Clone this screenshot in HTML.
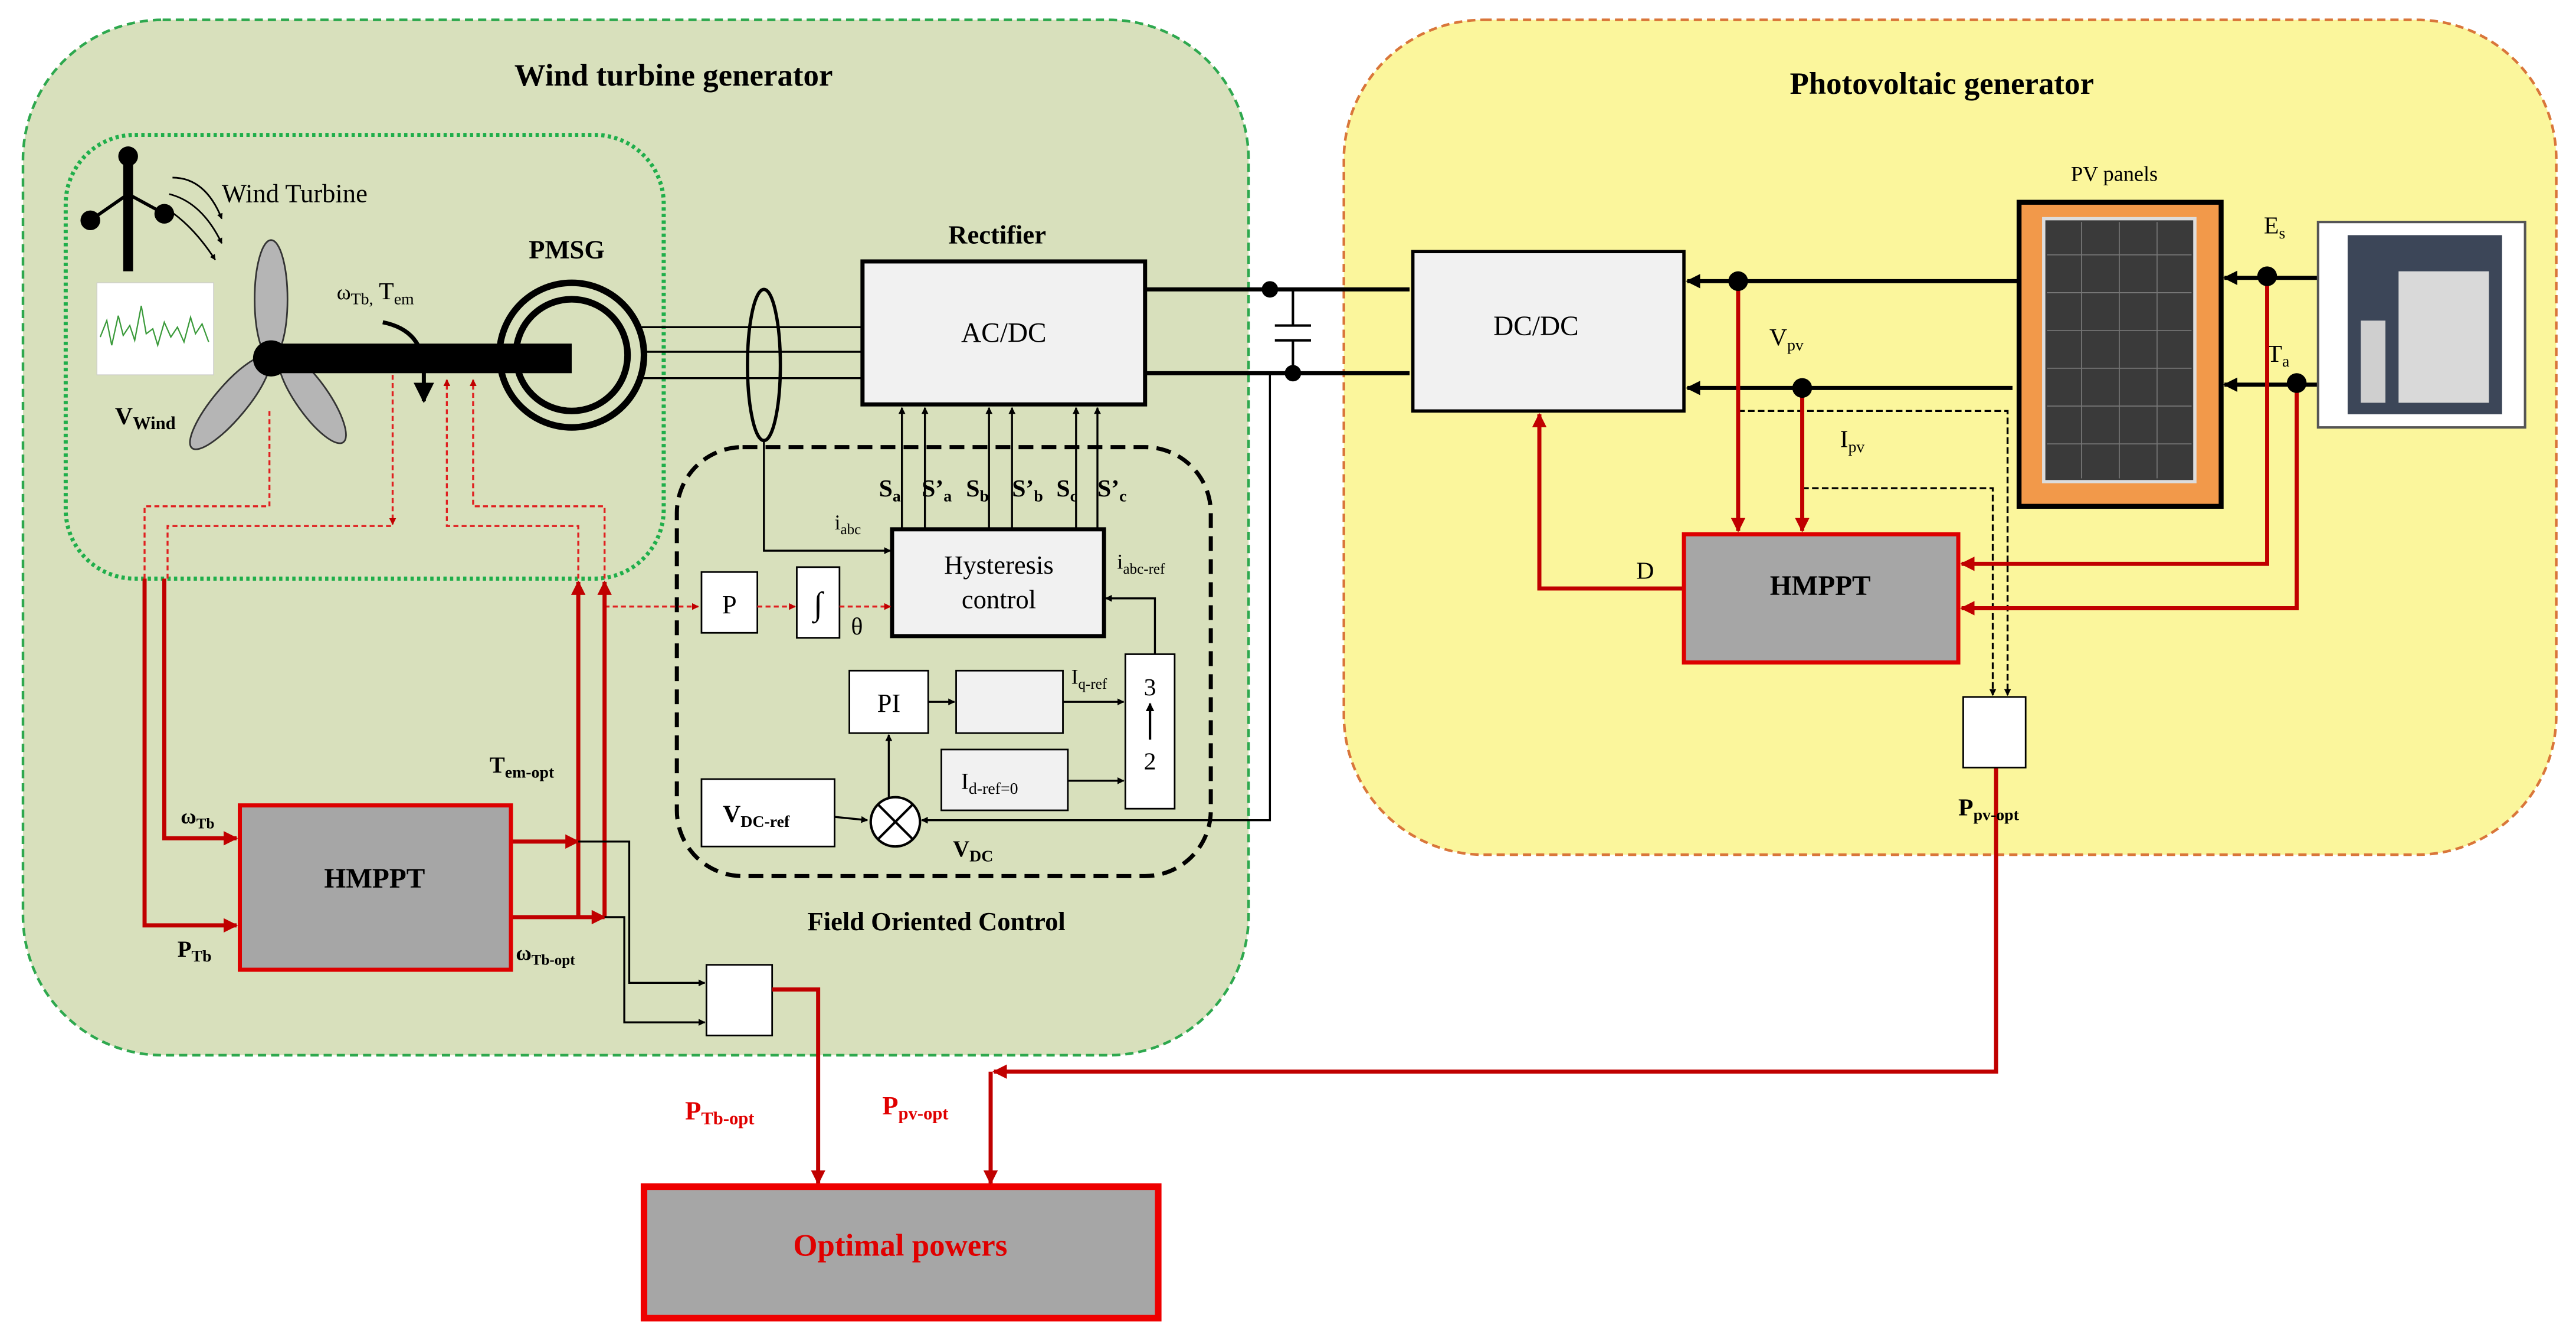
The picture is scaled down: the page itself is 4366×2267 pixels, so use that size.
<!DOCTYPE html>
<html><head><meta charset="utf-8"><style>
html,body{margin:0;padding:0;background:#fff;}
svg{display:block;font-family:"Liberation Serif",serif;}
</style></head><body>
<svg width="4366" height="2267" viewBox="0 0 1568 814" xmlns="http://www.w3.org/2000/svg">
<defs>
<marker id="ab" viewBox="0 0 10 10" refX="9" refY="5" markerWidth="5" markerHeight="5" orient="auto"><path d="M0,0L10,5L0,10z" fill="#000"/></marker>
<marker id="ar" viewBox="0 0 10 10" refX="9" refY="5" markerWidth="5" markerHeight="5" orient="auto"><path d="M0,0L10,5L0,10z" fill="#d00"/></marker>
<marker id="ar2" viewBox="0 0 10 10" refX="9" refY="5" markerWidth="3.5" markerHeight="3.5" orient="auto"><path d="M0,0L10,5L0,10z" fill="#c00000"/></marker>
<marker id="ab2" viewBox="0 0 10 10" refX="9" refY="5" markerWidth="3.5" markerHeight="3.5" orient="auto"><path d="M0,0L10,5L0,10z" fill="#000"/></marker>
</defs>
<rect width="1568" height="814" fill="#fff"/>
<!-- regions -->
<rect x="14" y="12" width="746" height="630" rx="85" fill="#d8e0bc" stroke="#2ea84e" stroke-width="1.6" stroke-dasharray="5,3"/>
<rect x="818" y="12" width="738" height="508" rx="85" fill="#fbf69c" stroke="#d9763a" stroke-width="1.6" stroke-dasharray="5,3"/>
<text x="410" y="52" font-size="19" font-weight="bold" text-anchor="middle">Wind turbine generator</text>
<text x="1182" y="57" font-size="19" font-weight="bold" text-anchor="middle">Photovoltaic generator</text>
<rect x="40" y="82" width="364" height="270" rx="42" fill="none" stroke="#1fae4a" stroke-width="2.5" stroke-dasharray="2,2"/>

<!-- anemometer -->
<line x1="78" y1="96" x2="78" y2="165" stroke="#000" stroke-width="6"/>
<line x1="78" y1="118" x2="55" y2="134" stroke="#000" stroke-width="2"/>
<line x1="78" y1="118" x2="100" y2="130" stroke="#000" stroke-width="2"/>
<circle cx="78" cy="95" r="6"/><circle cx="55" cy="134" r="6"/><circle cx="100" cy="130" r="6"/>
<path d="M105,108 q20,0 30,25" fill="none" stroke="#000" stroke-width="1" marker-end="url(#ab2)"/>
<path d="M103,118 q20,5 32,30" fill="none" stroke="#000" stroke-width="1" marker-end="url(#ab2)"/>
<path d="M103,128 q15,10 28,30" fill="none" stroke="#000" stroke-width="1" marker-end="url(#ab2)"/>
<text x="135" y="123" font-size="16">Wind Turbine</text>
<rect x="59" y="172" width="71" height="56" fill="#fff" stroke="#ccc" stroke-width="0.5"/>
<polyline points="61,205 65,195 68,210 72,192 75,204 79,198 82,207 86,186 89,203 93,200 96,210 100,196 104,205 108,199 112,208 116,193 119,203 123,197 127,208" fill="none" stroke="#3a9a3a" stroke-width="0.8"/>
<!-- blades -->
<ellipse cx="165" cy="182" rx="10" ry="36" fill="#b5b5b5" stroke="#333"/>
<ellipse cx="140" cy="245" rx="10" ry="36" fill="#b5b5b5" stroke="#333" transform="rotate(40 140 245)"/>
<ellipse cx="190" cy="242" rx="10" ry="33" fill="#b5b5b5" stroke="#333" transform="rotate(-35 190 242)"/>
<rect x="165" y="209" width="183" height="18" fill="#000"/>
<circle cx="165" cy="218" r="11" fill="#000"/>
<text x="70" y="258" font-size="15" font-weight="bold">V<tspan font-size="11" dy="3">Wind</tspan></text>
<text x="205" y="182" font-size="13">ω<tspan font-size="10" dy="3">Tb,</tspan><tspan dy="-3" font-size="15"> T</tspan><tspan font-size="10" dy="3">em</tspan></text>
<path d="M233,196 q25,5 25,30 l0,18" fill="none" stroke="#000" stroke-width="2.5" marker-end="url(#ab)"/>
<!-- PMSG -->
<circle cx="348" cy="216" r="44" fill="none" stroke="#000" stroke-width="4"/>
<circle cx="348" cy="216" r="34" fill="none" stroke="#000" stroke-width="4"/>
<text x="345" y="157" font-size="16" font-weight="bold" text-anchor="middle">PMSG</text>
<g stroke="#000" stroke-width="1.2"><line x1="390" y1="199" x2="525" y2="199"/><line x1="390" y1="214" x2="525" y2="214"/><line x1="390" y1="230" x2="525" y2="230"/></g>
<ellipse cx="465" cy="222" rx="10" ry="46" fill="none" stroke="#000" stroke-width="2"/>
<text x="607" y="148" font-size="16" font-weight="bold" text-anchor="middle">Rectifier</text>
<rect x="525" y="159" width="172" height="87" fill="#f1f1f1" stroke="#000" stroke-width="2.5"/>
<text x="611" y="208" font-size="17" text-anchor="middle">AC/DC</text>
<!-- DC bus -->
<g stroke="#000" stroke-width="2.5"><line x1="697" y1="176" x2="858" y2="176"/><line x1="697" y1="227" x2="858" y2="227"/></g>
<g stroke="#000" stroke-width="1.5"><line x1="787" y1="176" x2="787" y2="198"/><line x1="776" y1="198" x2="798" y2="198"/><line x1="776" y1="207" x2="798" y2="207"/><line x1="787" y1="207" x2="787" y2="227"/></g>
<circle cx="773" cy="176" r="5"/><circle cx="787" cy="227" r="5"/>
<polyline points="773,227 773,499 561,499" fill="none" stroke="#000" stroke-width="1.2" marker-end="url(#ab2)"/>
<!-- FOC -->
<rect x="412" y="272" width="325" height="261" rx="40" fill="none" stroke="#000" stroke-width="2.5" stroke-dasharray="9,5"/>
<text x="570" y="566" font-size="16" font-weight="bold" text-anchor="middle">Field Oriented Control</text>
<rect x="543" y="322" width="129" height="65" fill="#f1f1f1" stroke="#000" stroke-width="2.5"/>
<text x="608" y="349" font-size="16" text-anchor="middle">Hysteresis</text>
<text x="608" y="370" font-size="16" text-anchor="middle">control</text>
<g stroke="#000" stroke-width="1.2" marker-end="url(#ab2)">
<line x1="549" y1="322" x2="549" y2="248"/><line x1="563" y1="322" x2="563" y2="248"/>
<line x1="602" y1="322" x2="602" y2="248"/><line x1="616" y1="322" x2="616" y2="248"/>
<line x1="655" y1="322" x2="655" y2="248"/><line x1="668" y1="322" x2="668" y2="248"/>
</g>
<text y="302" font-size="15" font-weight="bold"><tspan x="535">S</tspan><tspan font-size="10" dy="3">a</tspan><tspan x="561" dy="-3">S’</tspan><tspan font-size="10" dy="3">a</tspan><tspan x="588" dy="-3">S</tspan><tspan font-size="10" dy="3">b</tspan><tspan x="616" dy="-3">S’</tspan><tspan font-size="10" dy="3">b</tspan><tspan x="643" dy="-3">S</tspan><tspan font-size="10" dy="3">c</tspan><tspan x="668" dy="-3">S’</tspan><tspan font-size="10" dy="3">c</tspan></text>
<polyline points="465,268 465,335 542,335" fill="none" stroke="#000" stroke-width="1.2" marker-end="url(#ab2)"/>
<text x="508" y="322" font-size="13">i<tspan font-size="9" dy="3">abc</tspan></text>
<text x="680" y="346" font-size="13">i<tspan font-size="9" dy="3">abc-ref</tspan></text>
<polyline points="703,398 703,364 673,364" fill="none" stroke="#000" stroke-width="1.2" marker-end="url(#ab2)"/>
<rect x="427" y="348" width="34" height="37" fill="#fff" stroke="#000"/>
<text x="444" y="373" font-size="16" text-anchor="middle">P</text>
<rect x="485" y="345" width="26" height="43" fill="#fff" stroke="#000"/>
<text x="498" y="374" font-size="20" text-anchor="middle">∫</text>
<text x="518" y="386" font-size="15">θ</text>
<g stroke="#e02020" stroke-width="1.2" stroke-dasharray="3,2" fill="none">
<line x1="368" y1="369" x2="425" y2="369" marker-end="url(#ar2)"/>
<line x1="461" y1="369" x2="484" y2="369" marker-end="url(#ar2)"/>
<line x1="511" y1="369" x2="542" y2="369" marker-end="url(#ar2)"/>
</g>
<rect x="517" y="408" width="48" height="38" fill="#fff" stroke="#000"/>
<text x="541" y="433" font-size="16" text-anchor="middle">PI</text>
<rect x="582" y="408" width="65" height="38" fill="#f1f1f1" stroke="#000"/>
<line x1="565" y1="427" x2="581" y2="427" stroke="#000" stroke-width="1.2" marker-end="url(#ab2)"/>
<line x1="647" y1="427" x2="684" y2="427" stroke="#000" stroke-width="1.2" marker-end="url(#ab2)"/>
<text x="652" y="416" font-size="13">I<tspan font-size="9" dy="3">q-ref</tspan></text>
<rect x="573" y="456" width="77" height="37" fill="#f1f1f1" stroke="#000"/>
<text x="585" y="480" font-size="14">I<tspan font-size="10" dy="3">d-ref=0</tspan></text>
<line x1="650" y1="475" x2="684" y2="475" stroke="#000" stroke-width="1.2" marker-end="url(#ab2)"/>
<rect x="685" y="398" width="30" height="94" fill="#fff" stroke="#000"/>
<text x="700" y="423" font-size="15" text-anchor="middle">3</text>
<text x="700" y="468" font-size="15" text-anchor="middle">2</text>
<line x1="700" y1="450" x2="700" y2="428" stroke="#000" stroke-width="1.5" marker-end="url(#ab2)"/>
<rect x="427" y="474" width="81" height="41" fill="#fff" stroke="#000"/>
<text x="440" y="500" font-size="15" font-weight="bold">V<tspan font-size="10" dy="3">DC-ref</tspan></text>
<line x1="508" y1="497" x2="528" y2="499" stroke="#000" stroke-width="1.2" marker-end="url(#ab2)"/>
<circle cx="545" cy="500" r="15" fill="#fff" stroke="#000" stroke-width="1.5"/>
<line x1="534" y1="489" x2="556" y2="511" stroke="#000" stroke-width="1.5"/><line x1="556" y1="489" x2="534" y2="511" stroke="#000" stroke-width="1.5"/>
<line x1="541" y1="485" x2="541" y2="447" stroke="#000" stroke-width="1.2" marker-end="url(#ab2)"/>
<text x="580" y="521" font-size="14" font-weight="bold">V<tspan font-size="10" dy="3">DC</tspan></text>

<!-- red dashed inside turbine -->
<g stroke="#e02020" stroke-width="1.2" stroke-dasharray="3,2" fill="none">
<polyline points="164,250 164,308 88,308 88,352"/>
<polyline points="102,352 102,320 239,320"/>
<line x1="239" y1="228" x2="239" y2="319" marker-end="url(#ar2)"/>
<polyline points="352,352 352,320 272,320 272,231" marker-end="url(#ar2)"/>
<polyline points="368,352 368,308 288,308 288,231" marker-end="url(#ar2)"/>
</g>
<!-- wind HMPPT -->
<g stroke="#c00000" stroke-width="2.5" fill="none">
<polyline points="100,352 100,510 144,510" marker-end="url(#ar2)"/>
<polyline points="88,352 88,563 144,563" marker-end="url(#ar2)"/>
<polyline points="311,512 352,512" marker-end="url(#ar2)"/>
<line x1="352" y1="558" x2="352" y2="354" marker-end="url(#ar2)"/>
<polyline points="311,558 368,558" marker-end="url(#ar2)"/>
<line x1="368" y1="558" x2="368" y2="354" marker-end="url(#ar2)"/>
</g>
<rect x="146" y="490" width="165" height="100" fill="#a6a6a6" stroke="#d00" stroke-width="2.5"/>
<text x="228" y="540" font-size="17" font-weight="bold" text-anchor="middle">HMPPT</text>
<text x="110" y="501" font-size="13" font-weight="bold">ω<tspan font-size="9" dy="3">Tb</tspan></text>
<text x="108" y="582" font-size="14" font-weight="bold">P<tspan font-size="10" dy="3">Tb</tspan></text>
<text x="298" y="470" font-size="14" font-weight="bold">T<tspan font-size="10" dy="3">em-opt</tspan></text>
<text x="314" y="584" font-size="13" font-weight="bold">ω<tspan font-size="9" dy="3">Tb-opt</tspan></text>
<g stroke="#000" stroke-width="1.2" fill="none">
<polyline points="352,512 383,512 383,598 429,598" marker-end="url(#ab2)"/>
<polyline points="368,558 380,558 380,622 429,622" marker-end="url(#ab2)"/>
</g>
<rect x="430" y="587" width="40" height="43" fill="#fff" stroke="#000"/>
<polyline points="470,602 498,602 498,720" fill="none" stroke="#c00000" stroke-width="2.5" marker-end="url(#ar2)"/>
<text x="417" y="681" font-size="16" font-weight="bold" fill="#e00000">P<tspan font-size="11" dy="3">Tb-opt</tspan></text>
<text x="537" y="678" font-size="16" font-weight="bold" fill="#e00000">P<tspan font-size="11" dy="3">pv-opt</tspan></text>
<rect x="392" y="722" width="313" height="80" fill="#a6a6a6" stroke="#e00" stroke-width="4"/>
<text x="548" y="764" font-size="19" font-weight="bold" fill="#e00000" text-anchor="middle">Optimal powers</text>

<!-- PV side -->
<rect x="860" y="153" width="165" height="97" fill="#f1f1f1" stroke="#000" stroke-width="2"/>
<text x="935" y="204" font-size="17" text-anchor="middle">DC/DC</text>
<g stroke="#000" stroke-width="2.5"><line x1="1228" y1="171" x2="1027" y2="171" marker-end="url(#ab2)"/><line x1="1225" y1="236" x2="1027" y2="236" marker-end="url(#ab2)"/>
<line x1="1411" y1="169" x2="1354" y2="169" marker-end="url(#ab2)"/><line x1="1411" y1="234" x2="1354" y2="234" marker-end="url(#ab2)"/></g>
<rect x="1229" y="123" width="123" height="185" fill="#f2994a" stroke="#000" stroke-width="3"/>
<rect x="1244" y="133" width="92" height="160" fill="#3a3a3a" stroke="#ddd" stroke-width="2"/>
<g stroke="#777" stroke-width="0.6"><line x1="1267" y1="135" x2="1267" y2="291"/><line x1="1290" y1="135" x2="1290" y2="291"/><line x1="1313" y1="135" x2="1313" y2="291"/>
<line x1="1246" y1="155" x2="1334" y2="155"/><line x1="1246" y1="178" x2="1334" y2="178"/><line x1="1246" y1="201" x2="1334" y2="201"/><line x1="1246" y1="224" x2="1334" y2="224"/><line x1="1246" y1="247" x2="1334" y2="247"/><line x1="1246" y1="270" x2="1334" y2="270"/></g>
<text x="1287" y="110" font-size="13" text-anchor="middle">PV panels</text>
<rect x="1411" y="135" width="126" height="125" fill="#fff" stroke="#555" stroke-width="1.5"/>
<rect x="1429" y="143" width="94" height="109" fill="#3c4658"/>
<rect x="1460" y="165" width="55" height="80" fill="#d9d9d9"/>
<rect x="1437" y="195" width="15" height="50" fill="#cfcfcf"/>
<text x="1378" y="142" font-size="15">E<tspan font-size="10" dy="3">s</tspan></text>
<text x="1380" y="220" font-size="15">T<tspan font-size="10" dy="3">a</tspan></text>
<text x="1077" y="210" font-size="15">V<tspan font-size="10" dy="3">pv</tspan></text>
<text x="1120" y="272" font-size="15">I<tspan font-size="10" dy="3">pv</tspan></text>
<g stroke="#000" stroke-width="1.2" stroke-dasharray="4,2" fill="none">
<polyline points="1058,250 1222,250 1222,423" marker-end="url(#ab2)"/>
<polyline points="1097,297 1213,297 1213,423" marker-end="url(#ab2)"/>
</g>
<g stroke="#c00000" stroke-width="2.5" fill="none">
<line x1="1058" y1="171" x2="1058" y2="323" marker-end="url(#ar2)"/>
<line x1="1097" y1="236" x2="1097" y2="323" marker-end="url(#ar2)"/>
<polyline points="1380,169 1380,343 1194,343" marker-end="url(#ar2)"/>
<polyline points="1398,234 1398,370 1194,370" marker-end="url(#ar2)"/>
<polyline points="1025,358 937,358 937,252" marker-end="url(#ar2)"/>
<polyline points="1215,467 1215,652 605,652" marker-end="url(#ar2)"/>
<line x1="603" y1="652" x2="603" y2="720" marker-end="url(#ar2)"/>
</g>
<circle cx="1058" cy="171" r="6"/><circle cx="1097" cy="236" r="6"/><circle cx="1380" cy="168" r="6"/><circle cx="1398" cy="233" r="6"/>
<rect x="1025" y="325" width="167" height="78" fill="#a6a6a6" stroke="#d00" stroke-width="2.5"/>
<text x="1108" y="362" font-size="17" font-weight="bold" text-anchor="middle">HMPPT</text>
<text x="996" y="352" font-size="15">D</text>
<rect x="1195" y="424" width="38" height="43" fill="#fff" stroke="#000"/>
<text x="1192" y="496" font-size="15" font-weight="bold">P<tspan font-size="10" dy="3">pv-opt</tspan></text>
</svg>
</body></html>
